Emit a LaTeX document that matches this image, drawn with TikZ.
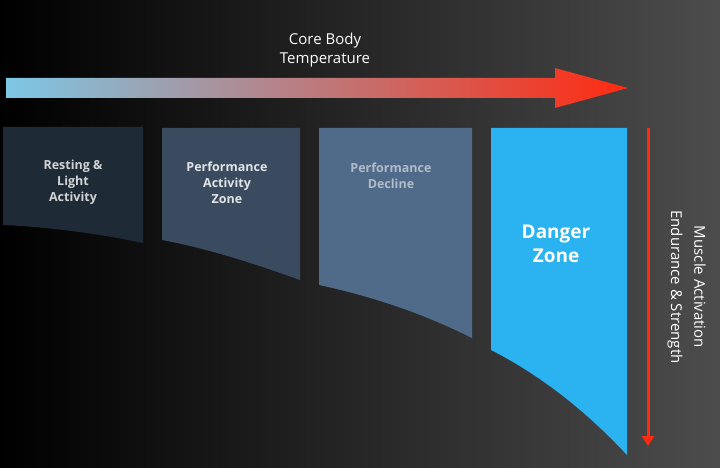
\documentclass[tikz,border=0pt]{standalone}
\usepackage{fontspec}
\setmainfont{Open Sans}
\usetikzlibrary{arrows.meta}
\definecolor{zoneA}{HTML}{1E2A35}
\definecolor{zoneB}{HTML}{3A4B5F}
\definecolor{zoneC}{HTML}{4F6B89}
\definecolor{zoneD}{HTML}{2AB2F1}
\definecolor{heatLow}{HTML}{7CC8E6}
\definecolor{heatMid}{HTML}{FFC000}
\definecolor{heatHigh}{HTML}{FF2A10}
\tikzset{
  zonetext/.style={font=\bfseries\fontsize{12.5}{16}\selectfont, align=center},
  sidetext/.style={text=white, font=\fontsize{15}{18}\selectfont, rotate=-90}
}
\begin{document}
\begin{tikzpicture}[x=1pt, y=-1pt]
  \shade[left color=black, right color=black!70!white] (0,0) rectangle (720,468);
  \useasboundingbox (0,0) rectangle (720,468);
  % temperature arrow
  \shade[left color=heatLow, middle color=heatMid, right color=heatHigh]
    (6,78) -- (555,78) -- (555,68) -- (628,88) -- (555,108) -- (555,98) -- (6,98) -- cycle;
  \node[text=white, font=\fontsize{15}{19}\selectfont, align=center] (temp) at (325,50) {Core Body\\Temperature};
  % zones
  \fill[zoneA] (3,127) -- (143,127) -- (143,243) .. controls (100,234) and (50,227) .. (3,225) -- cycle;
  \fill[zoneB] (162,128) -- (300,128) -- (300,280) .. controls (250,262) and (205,248) .. (162,240) -- cycle;
  \fill[zoneC] (319,128) -- (472,128) -- (472,338) .. controls (420,312) and (370,296) .. (319,285) -- cycle;
  \fill[zoneD] (491,128) -- (627,128) -- (627,455) .. controls (585,410) and (540,375) .. (491,350) -- cycle;
  \node[zonetext, text=white!80!zoneA] (rest) at (73,182) {Resting \&\\Light\\Activity};
  \node[zonetext, text=white!85!zoneB] (perf) at (227,183) {Performance\\Activity\\Zone};
  \node[zonetext, text=white!55!zoneC] (decl) at (391,176) {Performance\\Decline};
  \node[zonetext, text=white, font=\bfseries\fontsize{19}{24}\selectfont] (dang) at (556,244) {Danger\\Zone};
  % muscle arrow
  \coordinate (mtop) at (648,128);
  \coordinate (mbot) at (648,446);
  \draw[heatHigh, line width=3pt, -{Triangle[length=10pt, width=12pt]}] (mtop) -- (mbot);
  \node[sidetext] (musc) at (700,287) {Muscle Activation};
  \node[sidetext] (endu) at (675,287) {Endurance \& Strength};
\end{tikzpicture}
\end{document}
